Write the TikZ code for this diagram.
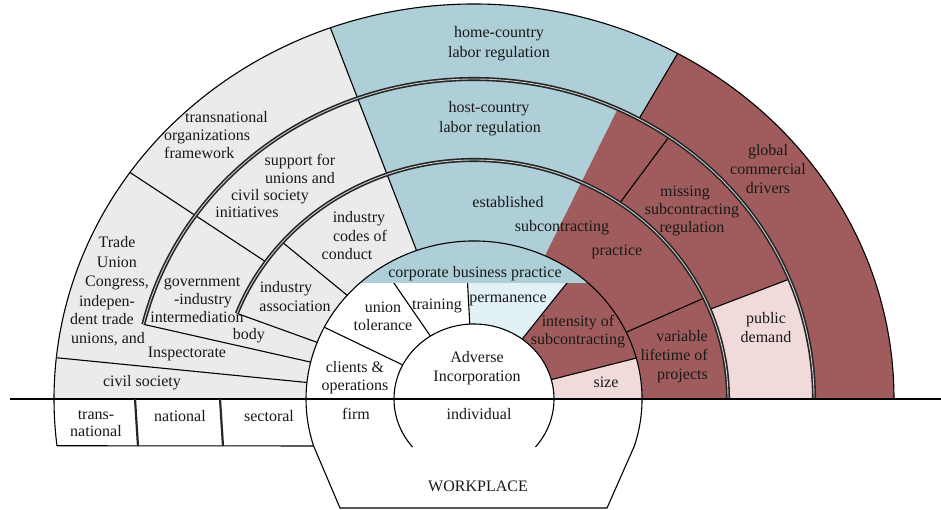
\documentclass[tikz,border=0pt]{standalone}
\usepackage{fontspec}
\setmainfont{Liberation Serif}
\definecolor{cgray}{RGB}{235,235,235}
\definecolor{cblue}{RGB}{174,207,216}
\definecolor{cred}{RGB}{160,92,92}
\definecolor{cpink}{RGB}{240,218,218}
\definecolor{cpale}{RGB}{226,241,246}
% sector between two elliptical rings: outer(x,y) inner(x,y) angle1 angle2
\newcommand\sct[6]{(#5:#1pt and #2pt) arc[start angle=#5,end angle=#6,x radius=#1pt,y radius=#2pt] -- (#6:#3pt and #4pt) arc[start angle=#6,end angle=#5,x radius=#3pt,y radius=#4pt] -- cycle}
% radial line: angle, inner(x,y), outer(x,y)
\newcommand\rl[5]{(#1:#2pt and #3pt) -- (#1:#4pt and #5pt)}
\begin{document}
\begin{tikzpicture}[x=1pt,y=1pt,
  ln/.style={draw=black, line width=1.1pt},
  dbl/.style={draw=black!85, double=black!20, double distance=0.9pt, line width=1.6pt},
  lbl/.style={font=\fontsize{16}{19}\selectfont, text=black!90, inner sep=0pt, anchor=base}]
\useasboundingbox (-474,-111) rectangle (467,399);
\fill[white] (-474,-111) rectangle (467,399);
% fills
\fill[cgray] \sct{420}{395}{168}{158}{110}{180};
\fill[cblue] \sct{420}{395}{340}{320}{61}{110};
\fill[cblue] \sct{340}{320}{168}{158}{60}{110};
\fill[cred] \sct{420}{395}{340}{320}{0}{61};
\fill[cred] \sct{340}{320}{254}{239}{22}{65};
\fill[cpink] \sct{340}{320}{254}{239}{0}{22};
\fill[cred] \sct{254}{239}{168}{158}{0}{65};
\fill[white] \sct{168}{158}{80}{75}{93}{180};
\fill[cpale] \sct{168}{158}{80}{75}{53}{93};
\fill[cred] \sct{168}{158}{80}{75}{15}{53};
\fill[cpink] \sct{168}{158}{80}{75}{0}{15};
% inner dividers
\draw[ln] \rl{153}{80}{75}{168}{158};
\draw[ln] \rl{123}{80}{75}{168}{158};
\draw[ln] \rl{93}{80}{75}{168}{158};
\draw[ln] \rl{53}{80}{75}{168}{158};
\draw[ln] \rl{15}{80}{75}{168}{158};
% corporate band
\begin{scope}
\clip (-200,116) rectangle (200,200);
\fill[cblue] (0,0) ellipse [x radius=168pt, y radius=158pt];
\end{scope}
\fill[white] (0,0) ellipse [x radius=80pt, y radius=75pt];
% other dividers
\draw[ln] \rl{110}{168}{158}{420}{395};
\draw[ln] \rl{61}{340}{320}{420}{395};
\draw[ln] \rl{55}{254}{239}{340}{320};
\draw[ln] \rl{22}{254}{239}{340}{320};
\draw[ln] \rl{25}{168}{158}{254}{239};
\draw[ln] \rl{145}{254}{239}{420}{395};
\draw[ln] \rl{139}{168}{158}{254}{239};
\draw[ln] \rl{174}{168}{158}{420}{395};
\draw[ln] \rl{166.5}{168}{158}{340}{320};
\draw[ln] \rl{159}{168}{158}{254}{239};
% arcs and outline
\draw[ln] (0:420pt and 395pt) arc[start angle=0,end angle=186.8,x radius=420pt,y radius=395pt];
\draw[ln] (186.8:420pt and 395pt) -- (197.3:168pt and 158pt);
\draw[ln] (-17.3:168pt and 158pt) arc[start angle=-17.3,end angle=197.3,x radius=168pt,y radius=158pt] -- (-134,-109) -- (133,-109) -- cycle;
\draw[ln] (-39.8:80pt and 75pt) arc[start angle=-39.8,end angle=219.8,x radius=80pt,y radius=75pt];
\draw[dbl] (0:340pt and 320pt) arc[start angle=0,end angle=166.5,x radius=340pt,y radius=320pt];
\draw[dbl] (0:254pt and 239pt) arc[start angle=0,end angle=159,x radius=254pt,y radius=239pt];
\draw[line width=1.5pt] (-464,0) -- (467,0);
\draw[line width=2.2pt, black!85] (-339,0) -- (-336,-47);
\draw[line width=2.2pt, black!85] (-254,0) -- (-251,-47);
% labels
\begin{scope}[shift={(-474,399)}, yscale=-1]
\node[lbl] (a1) at (499,38) {home-country};
\node[lbl] (a2) at (499,58) {labor regulation};
\node[lbl] (b1) at (489,113) {host-country};
\node[lbl] (b2) at (490,133) {labor regulation};
\node[lbl] (c1) at (508,208) {established};
\node[lbl] (c2) at (562,232) {subcontracting};
\node[lbl] (c3) at (617,256) {practice};
\node[lbl] (d1) at (475,278) {corporate business practice};
\node[lbl] (e1) at (383,313) {union};
\node[lbl] (e2) at (383,331) {tolerance};
\node[lbl] (f1) at (437,310) {training};
\node[lbl] (g1) at (508,303) {permanence};
\node[lbl] (h1) at (578,327) {intensity of};
\node[lbl] (h2) at (578,345) {subcontracting};
\node[lbl] (i1) at (477,363) {Adverse};
\node[lbl] (i2) at (477,382) {Incorporation};
\node[lbl] (j1) at (355,373) {clients \&};
\node[lbl] (j2) at (355,391) {operations};
\node[lbl] (k1) at (606,388) {size};
\node[lbl, anchor=base east] (l1) at (708,342) {variable};
\node[lbl, anchor=base east] (l2) at (708,361) {lifetime of};
\node[lbl, anchor=base east] (l3) at (708,380) {projects};
\node[lbl] (m1) at (766,324) {public};
\node[lbl] (m2) at (766,343) {demand};
\node[lbl] (n1) at (768,156) {global};
\node[lbl] (n2) at (768,175) {commercial};
\node[lbl] (n3) at (768,194) {drivers};
\node[lbl] (o1) at (685,197) {missing};
\node[lbl] (o2) at (692,215) {subcontracting};
\node[lbl] (o3) at (692,233) {regulation};
\node[lbl, anchor=base west] (p1) at (185,123) {transnational};
\node[lbl, anchor=base west] (p2) at (164,141) {organizations};
\node[lbl, anchor=base west] (p3) at (164,159) {framework};
\node[lbl] (q1) at (300,166) {support for};
\node[lbl] (q2) at (300,184) {unions and};
\node[lbl] (q3) at (270,201) {civil society};
\node[lbl] (q4) at (247,218) {initiatives};
\node[lbl] (r1) at (359,223) {industry};
\node[lbl] (r2) at (360,242) {codes of};
\node[lbl] (r3) at (347,260) {conduct};
\node[lbl] (s1) at (286,293) {industry};
\node[lbl] (s2) at (295,312) {association};
\node[lbl] (u1) at (117,248) {Trade};
\node[lbl] (u2) at (117,268) {Union};
\node[lbl] (u3) at (117,287) {Congress,};
\node[lbl] (u4) at (107,307) {indepen-};
\node[lbl] (u5) at (102,325) {dent trade};
\node[lbl] (u6) at (108,344) {unions, and};
\node[lbl] (u7) at (187,358) {Inspectorate};
\node[lbl] (v1) at (202,287) {government};
\node[lbl] (v2) at (203,305) {-industry};
\node[lbl] (v3) at (197,323) {intermediation};
\node[lbl] (v4) at (249,340) {body};
\node[lbl] (w1) at (142,387) {civil society};
\node[lbl] (x1) at (96,420) {trans-};
\node[lbl] (x2) at (96,437) {national};
\node[lbl] (x3) at (180,422) {national};
\node[lbl] (x4) at (269,422) {sectoral};
\node[lbl] (x5) at (356,420) {firm};
\node[lbl] (x6) at (479,420) {individual};
\node[lbl] (x7) at (478,492) {WORKPLACE};
\end{scope}
\end{tikzpicture}
\end{document}
